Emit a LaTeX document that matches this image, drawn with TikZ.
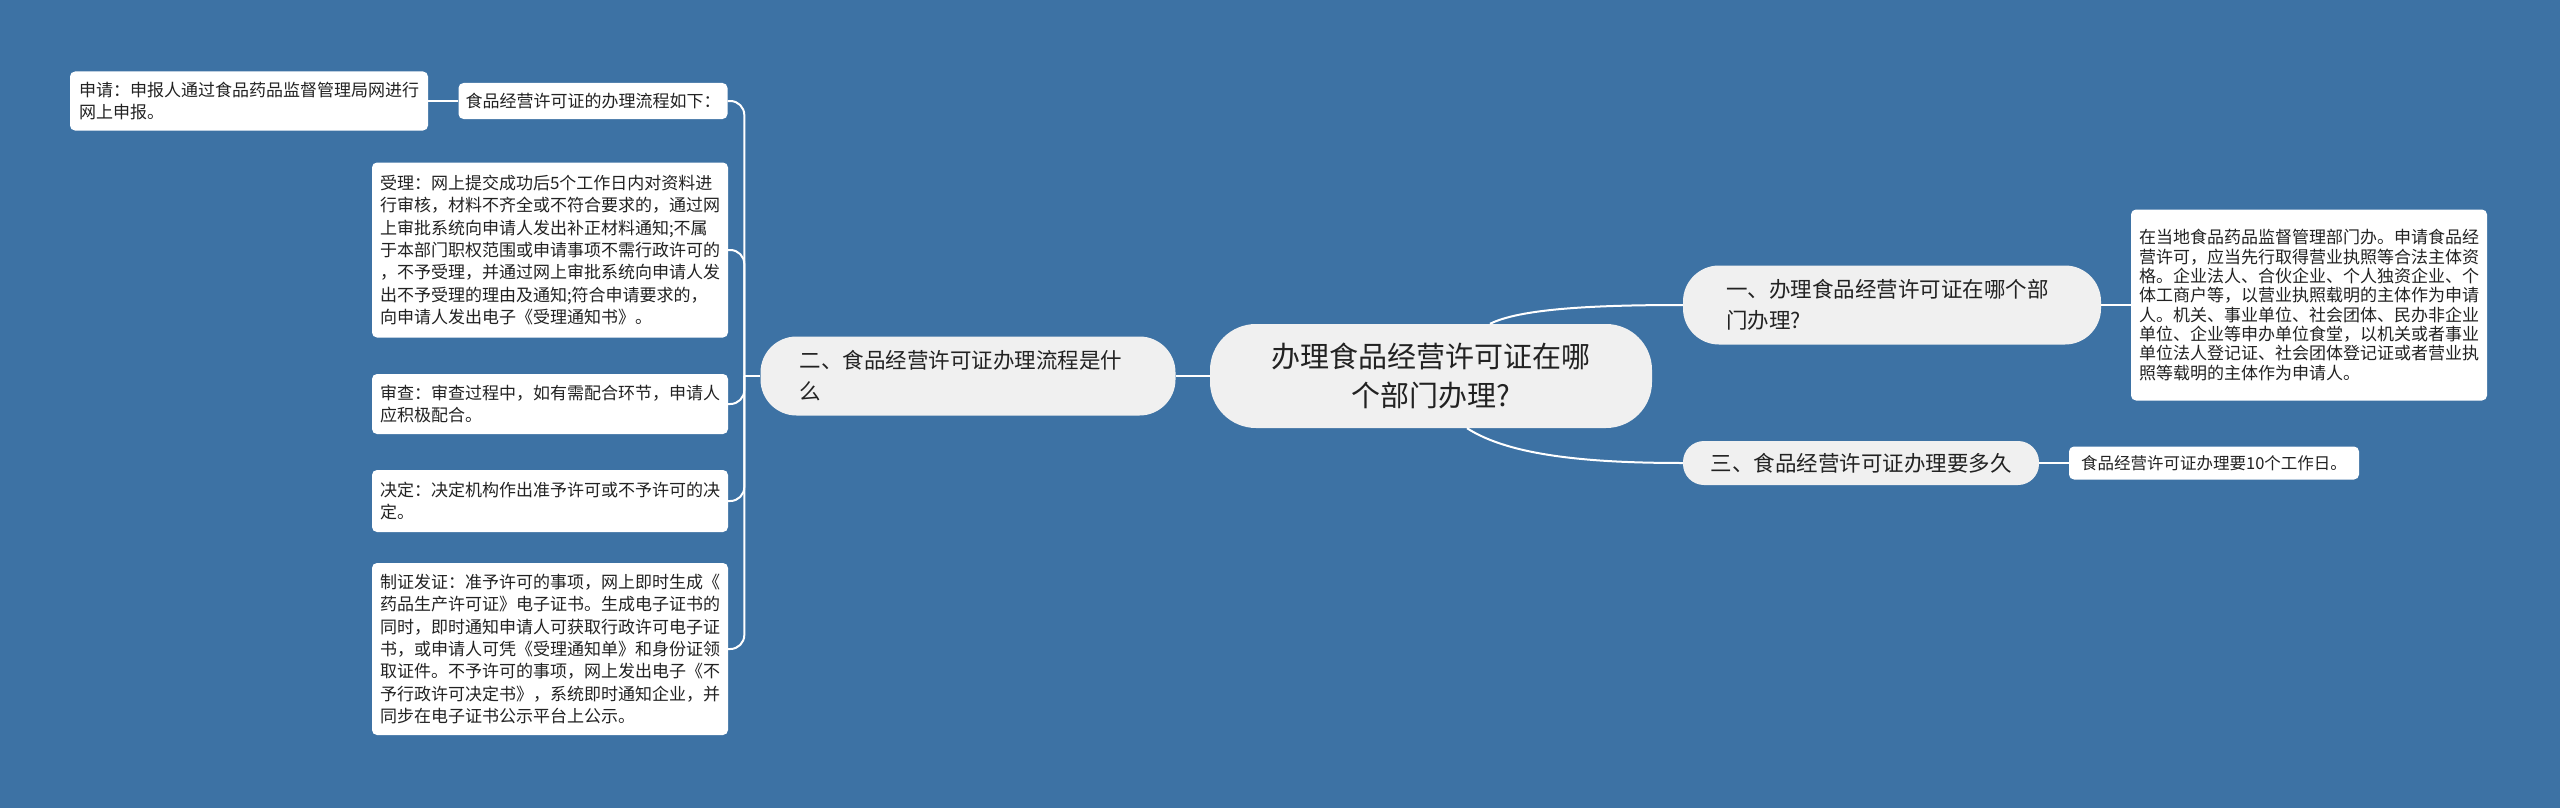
\documentclass[tikz,border=0pt]{standalone}
\usepackage{fontspec}
\setmainfont{Noto Sans CJK SC}
\usepackage{xcolor}
\usepackage{tikz}
\definecolor{bgblue}{HTML}{3D72A4}
\definecolor{pillgray}{HTML}{F0F0F0}
\definecolor{ink}{HTML}{222222}

\begin{document}
\begin{tikzpicture}[x=1pt, y=-1pt,
    link/.style={draw=white, line width=2pt},
    rootbox/.style={fill=pillgray, rounded corners=46pt, align=center, text=ink, inner sep=0pt,
        font=\fontsize{29}{39}\selectfont, minimum width=442pt, minimum height=104pt},
    topicbox/.style={fill=pillgray, rounded corners=36pt, align=left, text=ink, inner sep=0pt,
        font=\fontsize{21.5}{31}\selectfont, minimum height=79pt},
    leafbox/.style={fill=white, rounded corners=5pt, align=left, text=ink, inner sep=0pt,
        font=\fontsize{17}{22.4}\selectfont, minimum width=356pt}]
    \useasboundingbox (0,0) rectangle (2560,808);
    \fill[bgblue] (0,0) rectangle (2560,808);

    \node[rootbox] (root) at (1431,376) {办理食品经营许可证在哪\\个部门办理?};

    \node[topicbox, minimum width=415pt, text width=337pt] (b2) at (968,376) {二、食品经营许可证办理流程是什\\么};
    \node[topicbox, minimum width=418pt, text width=332pt] (b1) at (1892,305) {一、办理食品经营许可证在哪个部\\门办理?};
    \node[topicbox, minimum width=356pt, minimum height=44pt, rounded corners=21pt] (b3) at (1861,463) {三、食品经营许可证办理要多久};

    \node[leafbox, minimum height=191pt, font=\fontsize{17}{19.3}\selectfont] (r1) at (2309,305) {在当地食品药品监督管理部门办。申请食品经\\营许可，应当先行取得营业执照等合法主体资\\格。企业法人、合伙企业、个人独资企业、个\\体工商户等，以营业执照载明的主体作为申请\\人。机关、事业单位、社会团体、民办非企业\\单位、企业等申办单位食堂，以机关或者事业\\单位法人登记证、社会团体登记证或者营业执\\照等载明的主体作为申请人。};
    \node[leafbox, minimum width=290pt, minimum height=33pt, font=\fontsize{16.5}{20}\selectfont] (r3) at (2214,463) {食品经营许可证办理要10个工作日。};

    \node[leafbox, minimum width=269pt, minimum height=36pt] (s0) at (593,101) {食品经营许可证的办理流程如下：};
    \node[leafbox, minimum width=358pt, minimum height=59pt] (s00) at (249,101) {申请：申报人通过食品药品监督管理局网进行\\网上申报。};
    \node[leafbox, minimum height=175pt] (s1) at (550,250) {受理：网上提交成功后5个工作日内对资料进\\行审核，材料不齐全或不符合要求的，通过网\\上审批系统向申请人发出补正材料通知;不属\\于本部门职权范围或申请事项不需行政许可的\\，不予受理，并通过网上审批系统向申请人发\\出不予受理的理由及通知;符合申请要求的，\\向申请人发出电子《受理通知书》。};
    \node[leafbox, minimum height=60pt] (s2) at (550,404) {审查：审查过程中，如有需配合环节，申请人\\应积极配合。};
    \node[leafbox, minimum height=62pt] (s3) at (550,501) {决定：决定机构作出准予许可或不予许可的决\\定。};
    \node[leafbox, minimum height=172pt] (s4) at (550,649) {制证发证：准予许可的事项，网上即时生成《\\药品生产许可证》电子证书。生成电子证书的\\同时，即时通知申请人可获取行政许可电子证\\书，或申请人可凭《受理通知单》和身份证领\\取证件。不予许可的事项，网上发出电子《不\\予行政许可决定书》，系统即时通知企业，并\\同步在电子证书公示平台上公示。};

    \draw[link] (root.west) -- (b2.east);
    \draw[link] ([xshift=59pt]root.north) .. controls (1520,309) and (1590,305) .. (b1.west);
    \draw[link] ([xshift=36pt]root.south) .. controls (1510,456) and (1590,463) .. (b3.west);
    \draw[link] (b1.east) -- (r1.west);
    \draw[link] (b3.east) -- (r3.west);

    \coordinate (hub) at ([xshift=-16pt]b2.west);
    \draw[link] (b2.west) -- (hub);
    \foreach \n in {s0,s1,s2,s3,s4}
        \draw[link, rounded corners=14pt] (hub) |- (\n.east);
    \draw[link] (s0.west) -- (s00.east);
\end{tikzpicture}
\end{document}
